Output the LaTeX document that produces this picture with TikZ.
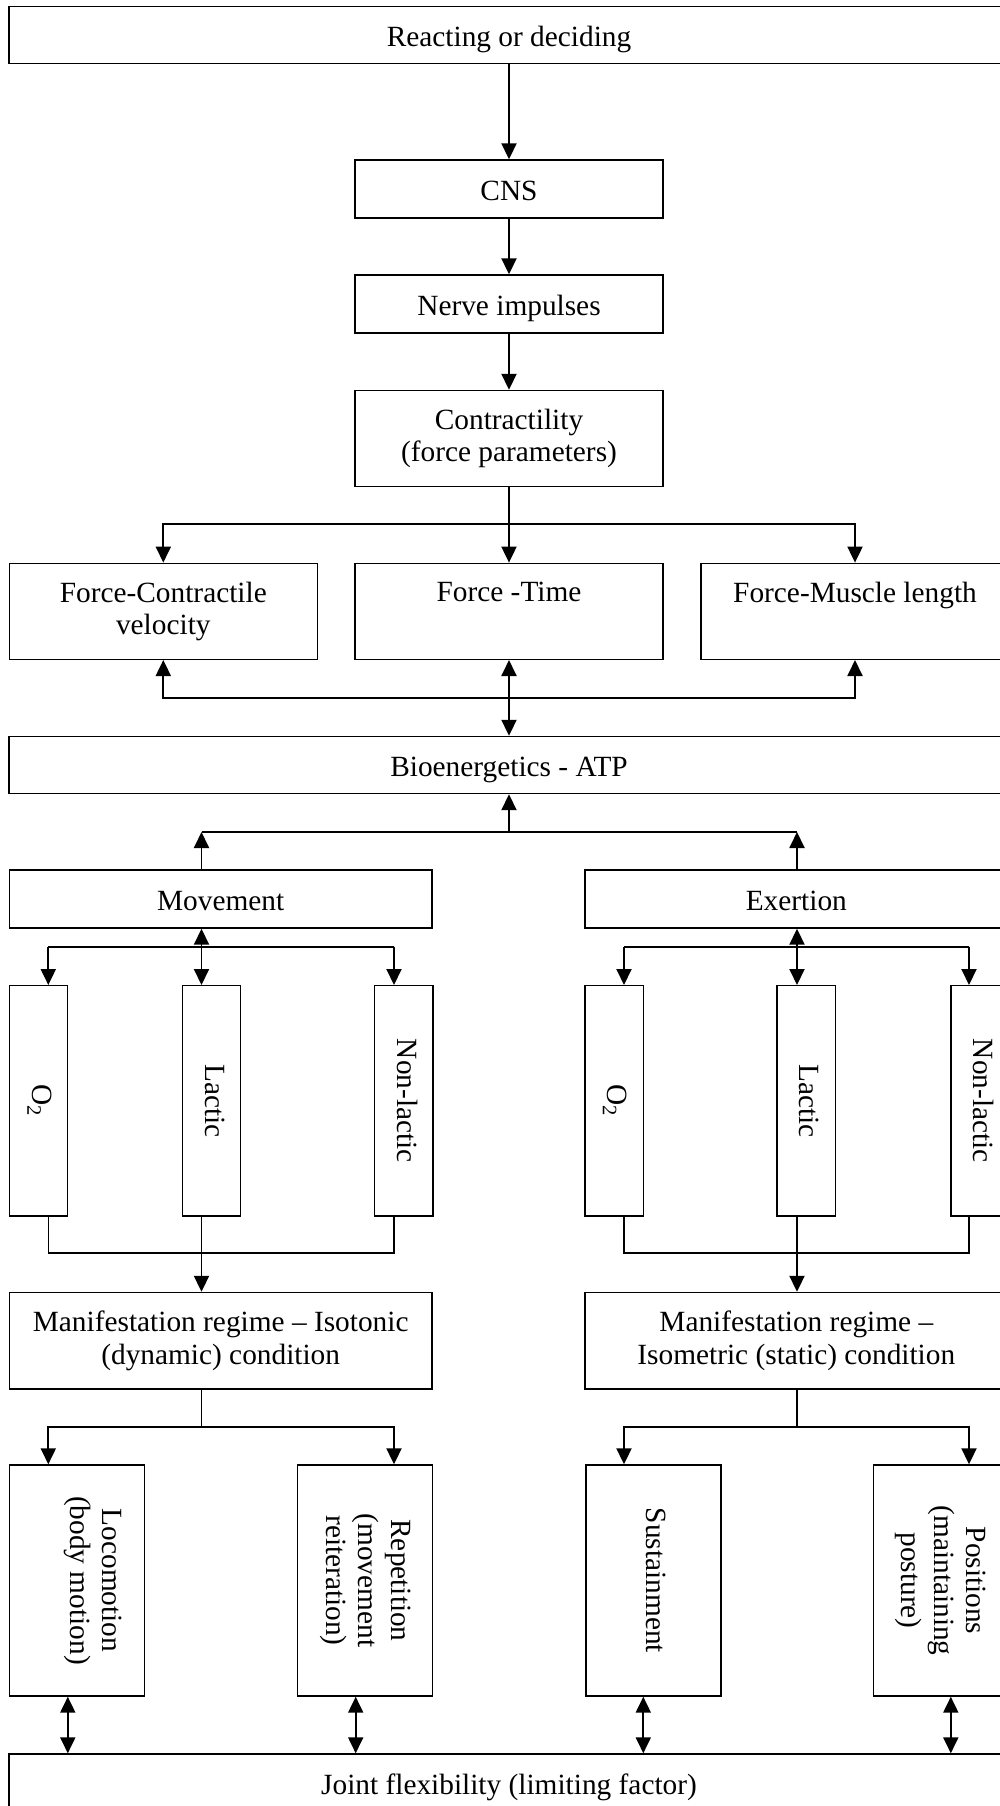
\documentclass[tikz,border=0pt]{standalone}
\usepackage{fontspec}
\setmainfont{Liberation Serif}
\usetikzlibrary{arrows.meta,calc}
\newlength{\pxu}
\setlength{\pxu}{0.02cm}
\newcommand{\vtext}[1]{\rotatebox{-90}{\begin{tabular}{@{}c@{}}#1\end{tabular}}}
\begin{document}
\begin{tikzpicture}[x=\pxu, y=-\pxu, font=\fontsize{16.7}{18.5}\selectfont,
	box/.style={draw, line width=0.8pt, inner sep=0pt},
	one/.style={text height=17.3pt, text depth=3.7pt},
	wide/.style={box, one, minimum width=1000\pxu, minimum height=57\pxu},
	mid/.style={box, one, minimum width=308\pxu, minimum height=58\pxu},
	force/.style={box, align=center, minimum width=308\pxu, minimum height=96\pxu},
	half/.style={box, align=center, minimum width=422.7\pxu, minimum height=58\pxu},
	slim/.style={box, minimum width=58.4\pxu, minimum height=230.3\pxu},
	broad/.style={box, minimum width=135\pxu, minimum height=231\pxu},
	wire/.style={line width=1.1pt},
	ln/.style={line width=0.8pt},
	arr/.style={wire, -{Triangle[length=0.32cm, width=0.3cm]}},
	darr/.style={wire, {Triangle[length=0.32cm, width=0.3cm]}-{Triangle[length=0.32cm, width=0.3cm]}}]
	\useasboundingbox (0 , 0) rectangle (1000 , 1806);
	\clip (0 , 0) rectangle (1000 , 1806);
	\node[wide] (react) at (509 , 34.75) {Reacting or deciding};
	\node[mid] (cns) at (509 , 189) {CNS};
	\node[mid] (nerve) at (509 , 304) {Nerve impulses};
	\node[force] (contr) at (509 , 438.5) {Contractility\\(force parameters)};
	\node[force] (fcv) at (163.3 , 611.3) {Force-Contractile\\velocity};
	\node[force] (ftime) at (509 , 611.3) {Force -Time\\\phantom{velocity}};
	\node[force] (fml) at (855 , 611.3) {Force-Muscle length\\\phantom{velocity}};
	\node[wide] (bio) at (509 , 765) {Bioenergetics - ATP};
	\node[half, one] (move) at (220.7 , 899) {Movement};
	\node[half, one] (exer) at (796.3 , 899) {Exertion};
	\node[slim] (mo2) at (38.5 , 1100.85) {\vtext{O\textsubscript{2}}};
	\node[slim] (mlac) at (211.5 , 1100.85) {\vtext{Lactic}};
	\node[slim] (mnon) at (403.8 , 1100.85) {\vtext{Non-lactic}};
	\node[slim] (eo2) at (614 , 1100.85) {\vtext{O\textsubscript{2}}};
	\node[slim] (elac) at (806 , 1100.85) {\vtext{Lactic}};
	\node[slim] (enon) at (980 , 1100.85) {\vtext{Non-lactic}};
	\node[half, minimum height=96.5\pxu] (mman) at (220.7 , 1340.75) {Manifestation regime -- Isotonic\\(dynamic) condition};
	\node[half, minimum height=96.5\pxu] (eman) at (796.3 , 1340.75) {Manifestation regime --\\Isometric (static) condition};
	\node[broad] (loco) at (76.8 , 1580.5) {\hspace*{32\pxu}\vtext{Locomotion\\(body motion)}};
	\node[broad] (rep) at (365.2 , 1580.5) {\vtext{Repetition\\(movement\\reiteration)}};
	\node[broad] (sus) at (653.3 , 1580.5) {\vtext{Sustainment}};
	\node[broad] (pos) at (940.8 , 1580.5) {\vtext{Positions\\(maintaining\\posture)}};
	\node[wide] (joint) at (509 , 1782.5) {Joint flexibility (limiting factor)};
	\coordinate (fu) at (509 , 524);
	\coordinate (fl) at (509 , 698);
	\coordinate (bl) at (201.5 , 832);\coordinate (bm) at (509 , 832);\coordinate (br) at (797 , 832);
	\coordinate (mo) at (48.3 , 946.7);\coordinate (ml) at (201.5 , 946.7);\coordinate (mn) at (394 , 946.7);
	\coordinate (eo) at (624 , 946.7);\coordinate (el) at (797 , 946.7);\coordinate (en) at (969 , 946.7);
	\coordinate (mj) at (0 , 1253);\coordinate (mk) at (0 , 1426.6);
	\draw[arr] (react) -- (cns);
	\draw[arr] (cns) -- (nerve);
	\draw[arr] (nerve) -- (contr);
	\draw[wire] (contr) -- (fu);
	\draw[arr] (fu) -- (ftime);
	\draw[arr] (fu) -| (fcv.north);
	\draw[arr] (fu) -| (fml.north);
	\draw[arr] (fl) -| (fcv.south);
	\draw[arr] (fl) -| (fml.south);
	\draw[darr] (ftime) -- (bio);
	\draw[wire] (bl) -- (br);
	\draw[arr] (bl |- move.north) -- (bl);
	\draw[arr] (br |- exer.north) -- (br);
	\draw[arr] (bm) -- (bio);
	\draw[wire] (mo) -- (mn);
	\draw[arr] (mo) -- (mo |- mo2.north);
	\draw[arr] (mn) -- (mn |- mnon.north);
	\draw[darr] (ml |- move.south) -- (ml |- mlac.north);
	\draw[wire] (eo) -- (en);
	\draw[arr] (eo) -- (eo |- eo2.north);
	\draw[arr] (en) -- (en |- enon.north);
	\draw[darr] (el |- exer.south) -- (el |- elac.north);
	\draw[ln] (mo |- mo2.south) |- (mn |- mj) -- (mn |- mnon.south);
	\draw[ln] (eo |- eo2.south) |- (en |- mj) -- (en |- enon.south);
	\draw[arr] (ml |- mlac.south) -- (ml |- mman.north);
	\draw[arr] (el |- elac.south) -- (el |- eman.north);
	\draw[ln] (ml |- mman.south) -- (ml |- mk);
	\draw[ln] (el |- eman.south) -- (el |- mk);
	\draw[arr] (ml |- mk) -| (mo |- loco.north);
	\draw[arr] (ml |- mk) -| (mn |- rep.north);
	\draw[arr] (el |- mk) -| (eo |- sus.north);
	\draw[arr] (el |- mk) -| (en |- pos.north);
	\foreach \n/\s in {loco/-9 , rep/-9.5 , sus/-10 , pos/10}
		\draw[darr] ($(\n.south)+(\s , 0)$) -- ($(\n.south |- joint.north)+(\s , 0)$);
\end{tikzpicture}
\end{document}
